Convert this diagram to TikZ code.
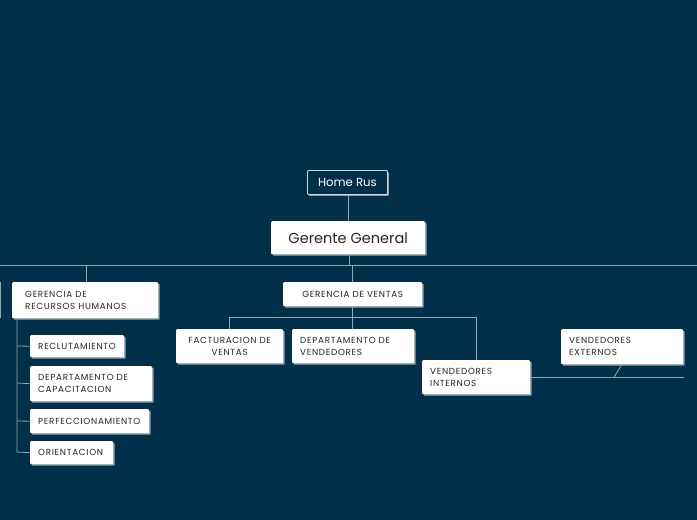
\documentclass[tikz,border=0pt]{standalone}
\usepackage{fontspec}
\setmainfont{Poppins}
\newfontfamily\sm[LetterSpace=8]{Poppins}
\usetikzlibrary{shadows}
\definecolor{bg}{HTML}{02304A}
\definecolor{ln}{HTML}{8FA9B7}
\definecolor{shd}{HTML}{9AA4AA}
\begin{document}
\begin{tikzpicture}[x=1pt,y=-1pt,
  box/.style={fill=white, rounded corners=1pt, anchor=north west, inner sep=0pt,
    font=\sm\fontsize{8.8}{12}\selectfont, text=black!85,
    drop shadow={shadow xshift=1.5pt, shadow yshift=-1.5pt, fill=shd, opacity=1}},
  lbox/.style={box, align=left},
  cbox/.style={box, align=center},
  conn/.style={draw=ln, line width=0.8pt}]
\fill[bg] (0,0) rectangle (697,520);
\useasboundingbox (0,0) rectangle (697,520);

% top
\node[anchor=north west, draw=white!80!bg, fill=bg, line width=0.9pt, rounded corners=1pt, inner sep=0pt,
  minimum width=80pt, minimum height=24pt, text=white, font=\fontsize{11.7}{13}\selectfont,
  drop shadow={shadow xshift=1.5pt, shadow yshift=-1.5pt, fill=shd, opacity=1}] (home) at (307,170) {Home Rus};
\node[cbox, minimum width=154pt, minimum height=33pt, font=\fontsize{14.5}{16}\selectfont] (gg) at (271,221) {Gerente General};

% level 1
\node[lbox, minimum width=146pt, minimum height=36pt, text width=120pt] (rh) at (12,282) {GERENCIA DE\\RECURSOS HUMANOS};
\node[cbox, minimum width=139pt, minimum height=24pt] (gv) at (283,282) {GERENCIA DE VENTAS};

% RRHH children
\node[lbox, minimum width=94pt, minimum height=22pt, text width=78pt] (rec) at (30,335) {RECLUTAMIENTO};
\node[lbox, minimum width=122pt, minimum height=35pt, text width=106pt] (cap) at (30,366) {DEPARTAMENTO DE\\CAPACITACION};
\node[lbox, minimum width=119pt, minimum height=24pt, text width=103pt] (per) at (30,409) {PERFECCIONAMIENTO};
\node[lbox, minimum width=83pt, minimum height=23pt, text width=67pt] (ori) at (30,441) {ORIENTACION};

% Ventas children
\node[cbox, minimum width=107pt, minimum height=34pt, text width=104pt] (fac) at (176,329) {FACTURACION DE\\VENTAS};
\node[lbox, minimum width=122pt, minimum height=34pt, text width=106pt] (dv) at (292,329) {DEPARTAMENTO DE\\VENDEDORES};
\node[lbox, minimum width=108pt, minimum height=34pt, text width=92pt] (vi) at (422,360) {VENDEDORES\\INTERNOS};
\node[lbox, minimum width=122pt, minimum height=35pt, text width=106pt] (ve) at (561,329) {VENDEDORES\\EXTERNOS};

% coordinates
\coordinate (hl) at (0,265);
\coordinate (hr) at (697,265);
\coordinate (jg) at (349,265);
\coordinate (jv) at (352,265);
\coordinate (jr) at (86,265);
\coordinate (vl) at (229,317);
\coordinate (vr) at (476,317);
\coordinate (vm) at (352,317);
\coordinate (rt) at (17,318);
\coordinate (e1) at (17,346);
\coordinate (e2) at (17,383);
\coordinate (e3) at (17,421);
\coordinate (e4) at (17,452);
\coordinate (xr) at (684,377);
\coordinate (xk) at (614,377);
\coordinate (edgeA) at (0.8,282);
\coordinate (edgeB) at (0.8,318);

% connectors
\draw[conn] (home.south -| 348,0) -- (gg.north -| 348,0);
\draw[conn] (gg.south -| jg) -- (jg);
\draw[conn] (hl) -- (hr);
\draw[conn] (jv) -- (gv.north -| jv);
\draw[conn] (jr) -- (rh.north -| jr);
\draw[conn] (edgeA) -- (edgeB);
\draw[conn] (gv.south -| vm) -- (dv.north -| vm);
\draw[conn] (fac.north -| vl) -- (vl) -- (vr) -- (vi.north -| vr);
\draw[conn] (rt) -- (e4) -- (ori.west);
\draw[conn] (e1) -- (rec.west);
\draw[conn] (e2) -- (cap.west);
\draw[conn] (e3) -- (per.west);
\draw[conn] (vi.east |- xr) -- (xr);
\draw[conn] (xk) -- (ve.south -| 622,0);
\end{tikzpicture}
\end{document}
